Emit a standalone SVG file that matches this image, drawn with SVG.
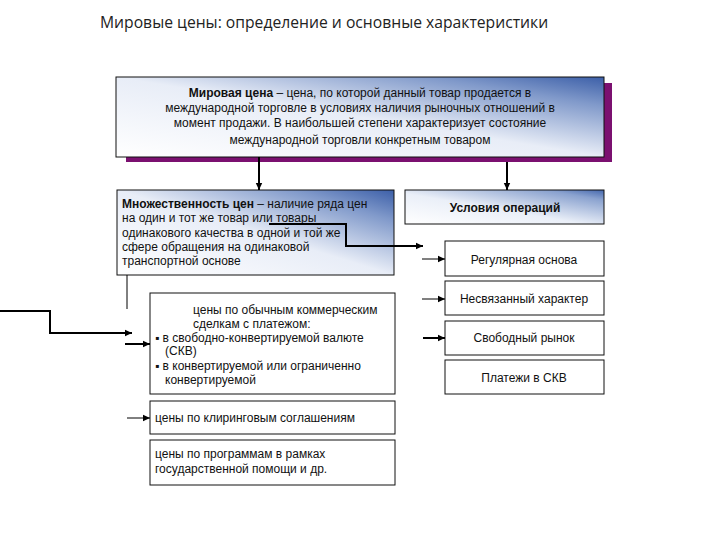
<svg xmlns="http://www.w3.org/2000/svg" width="720" height="540" viewBox="0 0 720 540">
<defs>
<linearGradient id="gDiag" x1="0" y1="1" x2="1" y2="0">
<stop offset="0" stop-color="#ffffff"/>
<stop offset="0.5" stop-color="#e8edf7"/>
<stop offset="0.82" stop-color="#8099ca"/>
<stop offset="1" stop-color="#3c5fa8"/>
</linearGradient>
<linearGradient id="gCond" x1="0" y1="1" x2="1" y2="0">
<stop offset="0" stop-color="#ffffff"/>
<stop offset="0.45" stop-color="#eaeff8"/>
<stop offset="0.85" stop-color="#8aa2cf"/>
<stop offset="1" stop-color="#4467ad"/>
</linearGradient>
<marker id="arr" markerUnits="userSpaceOnUse" markerWidth="8" markerHeight="8" refX="7" refY="4" orient="auto">
<path d="M0,0.8 L7,4 L0,7.2 Z" fill="#000"/>
</marker>
<style>
text{font-family:"Liberation Sans",Arial,sans-serif;font-size:12px;fill:#111}
.title{font-family:"Open Sans","Liberation Sans",sans-serif;font-size:15.7px;fill:#222}
.b{font-weight:bold}
.box{stroke:#111;stroke-width:1}
.plain{fill:#fff}
.c{fill:none;stroke:#000}
.thick{stroke-width:2}
.thin{stroke-width:1}
.mid{text-anchor:middle}
</style>
</defs>
<rect width="720" height="540" fill="#fff"/>
<text class="title" x="100" y="28">Мировые цены: определение и основные характеристики</text>

<g id="world-price">
<rect x="126" y="83" width="486" height="79" fill="#7b1070"/>
<rect class="box" x="116" y="77" width="488" height="80" fill="url(#gDiag)"/>
<text class="mid" x="360" y="97"><tspan class="b">Мировая цена</tspan> – цена, по которой данный товар продается в</text>
<text class="mid" x="360" y="112">международной торговле в условиях наличия рыночных отношений в</text>
<text class="mid" x="360" y="127">момент продажи. В наибольшей степени характеризует состояние</text>
<text class="mid" x="360" y="144">международной торговли конкретным товаром</text>
</g>

<g id="multiplicity">
<rect class="box" x="117" y="190" width="277" height="85" fill="url(#gDiag)"/>
<text x="122" y="208"><tspan class="b">Множественность цен</tspan> – наличие ряда цен</text>
<text x="122" y="222">на один и тот же товар или товары</text>
<text x="122" y="237">одинакового качества в одной и той же</text>
<text x="122" y="251">сфере обращения на одинаковой</text>
<text x="122" y="265">транспортной основе</text>
</g>

<g id="commercial">
<rect class="box plain" x="150" y="293" width="245" height="101"/>
<text x="193" y="314">цены по обычным коммерческим</text>
<text x="193" y="328">сделкам с платежом:</text>
<text x="155" y="342">▪ в свободно-конвертируемой валюте</text>
<text x="165" y="355">(СКВ)</text>
<text x="155" y="370">▪ в конвертируемой или ограниченно</text>
<text x="165" y="384">конвертируемой</text>
</g>

<g id="clearing">
<rect class="box plain" x="150" y="401" width="245" height="33"/>
<text x="155" y="422">цены по клиринговым соглашениям</text>
</g>

<g id="programs">
<rect class="box plain" x="150" y="440" width="245" height="45"/>
<text x="155" y="458">цены по программам в рамках</text>
<text x="155" y="473">государственной помощи и др.</text>
</g>

<g id="conditions">
<rect class="box" x="405" y="190" width="199" height="34" fill="url(#gCond)"/>
<text class="mid b" x="505" y="212">Условия операций</text>
</g>

<g id="regular">
<rect class="box plain" x="445" y="241" width="159" height="35"/>
<text class="mid" x="524" y="264">Регулярная основа</text>
</g>

<g id="untied">
<rect class="box plain" x="445" y="281" width="159" height="34"/>
<text class="mid" x="524" y="303">Несвязанный характер</text>
</g>

<g id="free-market">
<rect class="box plain" x="445" y="321" width="159" height="34"/>
<text class="mid" x="524" y="342">Свободный рынок</text>
</g>

<g id="skv">
<rect class="box plain" x="445" y="360" width="159" height="34"/>
<text class="mid" x="524" y="382">Платежи в СКВ</text>
</g>

<g id="connectors">
<path class="c thick" d="M259,157 V190" marker-end="url(#arr)"/>
<path class="c thick" d="M507,162 V190" marker-end="url(#arr)"/>
<path class="c thick" d="M269,224 H346 V246 H423" marker-end="url(#arr)"/>
<path class="c thin" d="M422,259 H445" marker-end="url(#arr)"/>
<path class="c thin" d="M422,299 H445" marker-end="url(#arr)"/>
<path class="c thick" d="M423,338 H445" marker-end="url(#arr)"/>
<path class="c thick" d="M0,311 H50 V333 H132" marker-end="url(#arr)"/>
<path class="c thin" d="M127,275 V309"/>
<path class="c thick" d="M125,344 H150" marker-end="url(#arr)"/>
<path class="c thin" d="M127,418 H150" marker-end="url(#arr)"/>
</g>
</svg>
